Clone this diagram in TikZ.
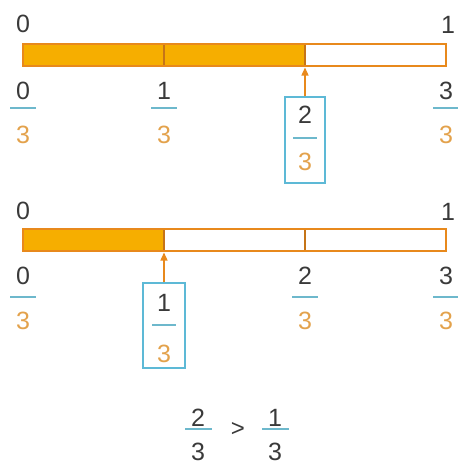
\documentclass[tikz,border=0pt]{standalone}
\usepackage{fontspec}
\setmainfont{Liberation Sans}
\usetikzlibrary{arrows.meta}
\definecolor{barfill}{HTML}{F6AE00}
\definecolor{barline}{HTML}{E8891C}
\definecolor{fracblue}{HTML}{6DB8CC}
\definecolor{boxblue}{HTML}{5DB9D6}
\definecolor{numgray}{HTML}{3A3A3A}
\definecolor{denor}{HTML}{E3A24C}
\tikzset{
  digit/.style={font=\fontsize{25}{28}\selectfont, inner sep=0pt, outer sep=0pt},
  numtxt/.style={digit, text=numgray},
  dentxt/.style={digit, text=denor},
  fracline/.style={draw=fracblue, line width=2pt},
  barbox/.style={draw=barline, line width=2.6pt},
  barfilled/.style={fill=barfill},
  divider/.style={draw=barline!85!black, line width=1.1pt},
  fracbox/.style={draw=boxblue, line width=1.2pt, inner sep=0pt, minimum width=40pt},
  pointer/.style={draw=barline, line width=1.3pt, -{Triangle[length=8pt,width=7pt]}},
}
\begin{document}
\begin{tikzpicture}[x=1pt,y=-1pt]
\useasboundingbox (0,0) rectangle (458,467);
% ---------- bar 1 ----------
\fill[barfilled] (23,44) rectangle (305,66);
\draw[divider] (164,44) -- (164,66);
\draw[divider] (305,44) -- (305,66);
\draw[barbox] (23,44) rectangle (446,66);
\node[numtxt] (t0a) at (23,24) {0};
\node[numtxt] (t1a) at (448,25) {1};
% fractions row 1
\node[numtxt] (a0n) at (23,91) {0};
\draw[fracline] (10,108) -- (36,108);
\node[dentxt] (a0d) at (23,135) {3};
\node[numtxt] (a1n) at (164,91) {1};
\draw[fracline] (151,108) -- (177,108);
\node[dentxt] (a1d) at (164,135) {3};
\node[numtxt] (a3n) at (446,91) {3};
\draw[fracline] (433,108) -- (459,108);
\node[dentxt] (a3d) at (446,135) {3};
% boxed 2/3
\node[fracbox, minimum height=86pt] (box1) at (305,140) {};
\node[numtxt] (b1n) at (305,115) {2};
\draw[fracline] (293,138) -- (317,138);
\node[dentxt] (b1d) at (305,162) {3};
\coordinate (p1) at (305,67.5);
\draw[pointer] (box1.north) -- (p1);
% ---------- bar 2 ----------
\fill[barfilled] (23,229) rectangle (164,251);
\draw[divider] (164,229) -- (164,251);
\draw[divider] (305,229) -- (305,251);
\draw[barbox] (23,229) rectangle (446,251);
\node[numtxt] (t0b) at (23,211) {0};
\node[numtxt] (t1b) at (448,212) {1};
% fractions row 2
\node[numtxt] (c0n) at (23,276) {0};
\draw[fracline] (10,297) -- (36,297);
\node[dentxt] (c0d) at (23,321) {3};
\node[numtxt] (c2n) at (305,276) {2};
\draw[fracline] (292,297) -- (318,297);
\node[dentxt] (c2d) at (305,321) {3};
\node[numtxt] (c3n) at (446,276) {3};
\draw[fracline] (433,297) -- (459,297);
\node[dentxt] (c3d) at (446,321) {3};
% boxed 1/3
\node[fracbox, minimum height=85pt, minimum width=42pt] (box2) at (164,325.5) {};
\node[numtxt] (d1n) at (164,303) {1};
\draw[fracline] (152,325) -- (176,325);
\node[dentxt] (d1d) at (164,354) {3};
\coordinate (p2) at (164,252.5);
\draw[pointer] (box2.north) -- (p2);
% ---------- comparison ----------
\node[numtxt] (e2n) at (198,418) {2};
\draw[fracline] (185,429) -- (212,429);
\node[numtxt] (e2d) at (198,452) {3};
\node[numtxt, font=\fontsize{24}{28}\selectfont] (gt) at (238,429) {>};
\node[numtxt] (e1n) at (275,418) {1};
\draw[fracline] (262,429) -- (289,429);
\node[numtxt] (e1d) at (275,452) {3};
\end{tikzpicture}
\end{document}
